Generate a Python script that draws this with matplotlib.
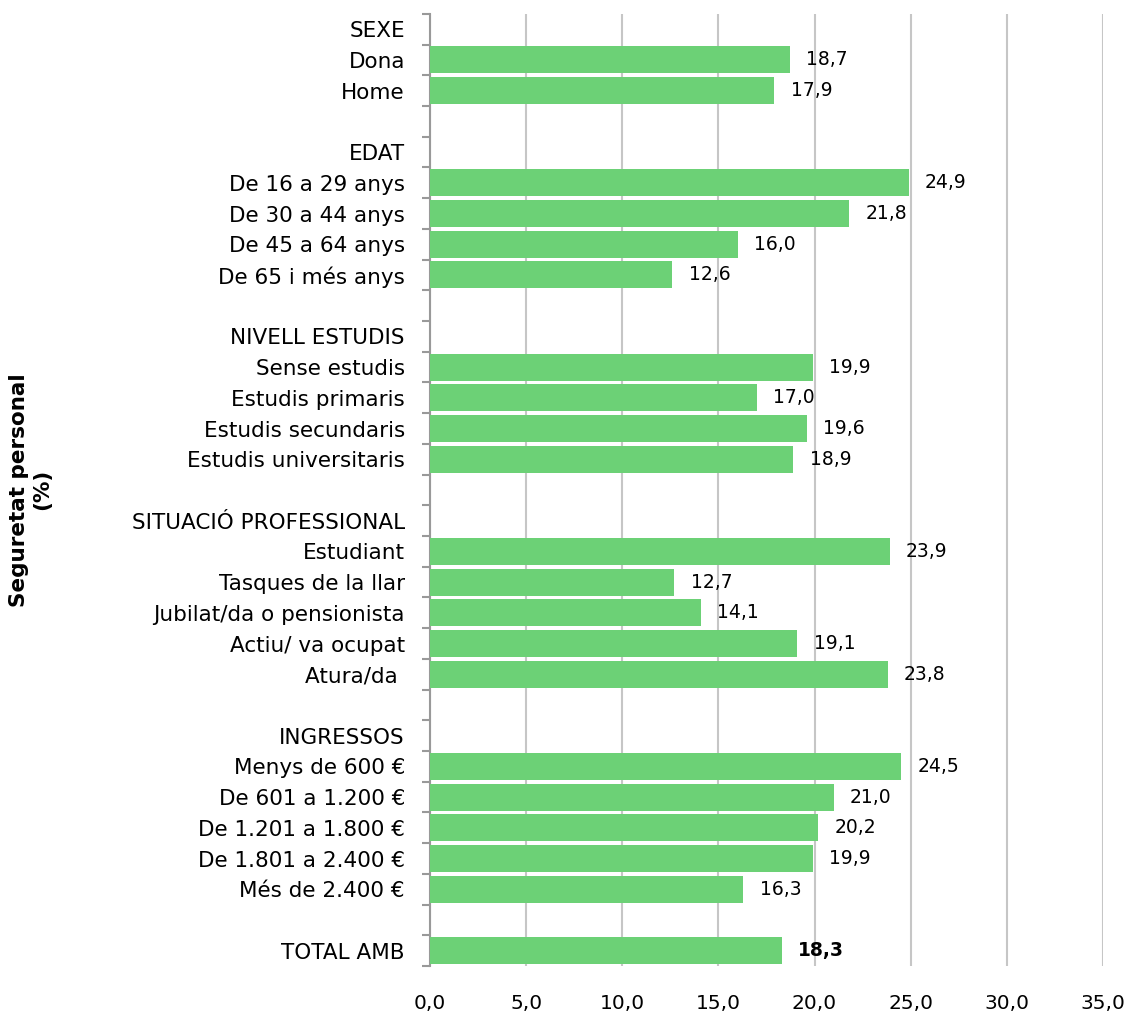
import numpy as np
import matplotlib
matplotlib.use('Agg')
from matplotlib import pyplot as plt

# rows top to bottom; None = header / blank row without a bar
labels = ['SEXE', 'Dona', 'Home', '',
          'EDAT', 'De 16 a 29 anys', 'De 30 a 44 anys', 'De 45 a 64 anys', 'De 65 i més anys', '',
          'NIVELL ESTUDIS', 'Sense estudis', 'Estudis primaris', 'Estudis secundaris',
          'Estudis universitaris', '',
          'SITUACIÓ PROFESSIONAL', 'Estudiant', 'Tasques de la llar', 'Jubilat/da o pensionista',
          'Actiu/ va ocupat', 'Atura/da ', '',
          'INGRESSOS', 'Menys de 600 €', 'De 601 a 1.200 €', 'De 1.201 a 1.800 €',
          'De 1.801 a 2.400 €', 'Més de 2.400 €', '',
          'TOTAL AMB']
values = [None, 18.7, 17.9, None,
          None, 24.9, 21.8, 16.0, 12.6, None,
          None, 19.9, 17.0, 19.6, 18.9, None,
          None, 23.9, 12.7, 14.1, 19.1, 23.8, None,
          None, 24.5, 21.0, 20.2, 19.9, 16.3, None,
          18.3]
xticks = np.arange(0, 36, 5)

plt.rcParams['font.family'] = 'DejaVu Sans'

fig = plt.figure(figsize=(11.33, 10.14), dpi=100)
ax = fig.add_axes([0.3795, 0.0473, 0.594, 0.939])

n = len(labels)
ypos = np.arange(n)
green = '#6cd176'
for y, v in zip(ypos, values):
    if v is None:
        continue
    ax.barh(y, v, height=0.88, color=green, zorder=3)
    bold = y == n - 1
    ax.text(v + 0.85, y, f'{v:.1f}'.replace('.', ','), va='center', ha='left',
            fontsize=13.5, fontweight='bold' if bold else 'normal', zorder=4)

ax.set_ylim(n - 0.5, -0.5)
ax.set_xlim(0, 35)
ax.set_yticks(ypos)
ax.set_yticklabels(labels, fontsize=15.5)
ax.set_yticks(np.arange(-0.5, n, 1), minor=True)
ax.tick_params(axis='y', which='major', length=0, pad=18)
ax.tick_params(axis='y', which='minor', length=6, width=1.5, color='#999999', direction='out')

ax.set_xticks(xticks)
ax.set_xticklabels([f'{t:.1f}'.replace('.', ',') for t in xticks], fontsize=14.5)
ax.tick_params(axis='x', length=0, pad=20)
ax.grid(axis='x', color='#c6c6c6', linewidth=1.5, zorder=0)

for s in ['top', 'right', 'bottom']:
    ax.spines[s].set_visible(False)
ax.spines['left'].set_color('#999999')
ax.spines['left'].set_linewidth(1.5)

fig.text(0.027, 0.517, 'Seguretat personal\n(%)', rotation=90, ha='center', va='center',
         fontsize=15.5, fontweight='bold', multialignment='center')

fig.savefig('out.png', dpi=100)
